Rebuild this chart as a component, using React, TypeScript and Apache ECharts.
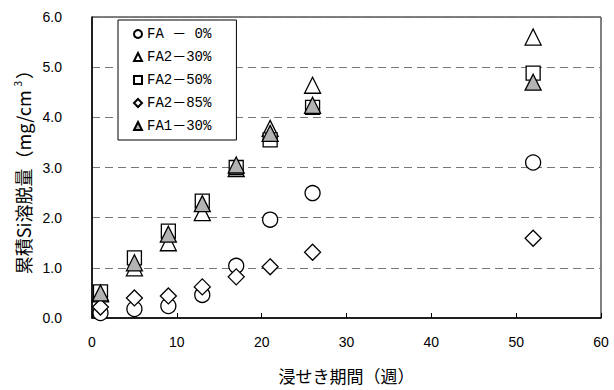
import React, { useEffect, useRef } from "react";
import * as echarts from "echarts";

const weeks = [1, 5, 9, 13, 17, 21, 26, 52];
const fa0 = [0.1, 0.18, 0.24, 0.46, 1.04, 1.96, 2.49, 3.1];
const fa2_30 = [0.48, 1.0, 1.5, 2.1, 2.98, 3.78, 4.64, 5.6];
const fa2_50 = [0.52, 1.2, 1.73, 2.33, 3.0, 3.55, 4.2, 4.88];
const fa2_85 = [0.22, 0.4, 0.44, 0.62, 0.82, 1.02, 1.31, 1.59];
const fa1_30 = [0.5, 1.1, 1.67, 2.28, 3.05, 3.68, 4.24, 4.7];

const seriesNames = ["FA － 0%", "FA2－30%", "FA2－50%", "FA2－85%", "FA1－30%"];
const yTicks = ["0.0", "1.0", "2.0", "3.0", "4.0", "5.0", "6.0"];
const xTicks = ["0", "10", "20", "30", "40", "50", "60"];

const pair = (ys: number[]) => weeks.map((w, i) => [w, ys[i]]);

export default function App() {
  const ref = useRef<HTMLDivElement>(null);
  useEffect(() => {
    const chart = echarts.init(ref.current!, null, { renderer: "svg" });
    const mk = (name: string, ys: number[], symbol: string, size: number, fill: string) => ({
      name,
      type: "scatter",
      data: pair(ys),
      symbol,
      symbolSize: size,
      itemStyle: { color: fill, borderColor: "#000", borderWidth: 1.3, opacity: 1 },
      emphasis: { disabled: true },
    });
    chart.setOption({
      animation: false,
      backgroundColor: "#fff",
      textStyle: { fontFamily: "Liberation Sans, Noto Sans CJK JP, sans-serif", color: "#000" },
      grid: {
        left: 92,
        top: 17,
        right: 13,
        bottom: 72,
        show: true,
        borderColor: "#000",
        borderWidth: 1,
        backgroundColor: "transparent",
      },
      legend: {
        orient: "vertical",
        left: 118,
        top: 20,
        padding: [7, 25, 7, 15],
        itemGap: 9,
        itemWidth: 8,
        itemHeight: 8,
        backgroundColor: "#fff",
        borderColor: "#000",
        borderWidth: 1,
        borderRadius: 0,
        selectedMode: false,
        data: seriesNames,
        textStyle: {
          fontSize: 14,
          lineHeight: 14,
          color: "#000",
          fontFamily: "Liberation Mono, Noto Sans CJK JP, monospace",
        },
      },
      xAxis: {
        type: "value",
        min: 0,
        max: 60,
        interval: 10,
        name: "浸せき期間（週）",
        nameLocation: "middle",
        nameGap: 49,
        nameTextStyle: { fontSize: 17, fontFamily: "Noto Sans CJK JP", color: "#000" },
        axisLine: { show: true, onZero: false, lineStyle: { color: "#000", width: 1.5 } },
        axisTick: { show: true, inside: true, length: 5, lineStyle: { color: "#000" } },
        axisLabel: {
          margin: 17,
          fontSize: 14,
          color: "#000",
          formatter: (v: number) => xTicks[Math.round(v / 10)] ?? String(v),
        },
        splitLine: { show: false },
      },
      yAxis: {
        type: "value",
        min: 0,
        max: 6,
        interval: 1,
        name: "{n|累積Si溶脱量（mg/cm}{sup|3}{n|）}",
        nameLocation: "middle",
        nameGap: 56,
        nameTextStyle: {
          fontSize: 18,
          fontFamily: "Noto Sans CJK JP",
          color: "#000",
          rich: {
            n: { fontSize: 18, fontFamily: "Noto Sans CJK JP", color: "#000" },
            sup: {
              fontSize: 10,
              fontFamily: "Noto Sans CJK JP",
              color: "#000",
              verticalAlign: "top",
              padding: [0, 2, 10, 4],
            },
          },
        },
        axisLine: { show: true, lineStyle: { color: "#000", width: 1.5 } },
        axisTick: { show: false },
        axisLabel: {
          margin: 30,
          fontSize: 14,
          color: "#000",
          formatter: (v: number) => yTicks[Math.round(v)] ?? v.toFixed(1),
        },
        splitLine: { show: true, lineStyle: { color: "#777", type: [8, 5], width: 1.2 } },
      },
      series: [
        mk(seriesNames[0], fa0, "circle", 15, "#fff"),
        mk(seriesNames[1], fa2_30, "triangle", 16, "#fff"),
        mk(seriesNames[2], fa2_50, "rect", 14, "#fff"),
        mk(seriesNames[3], fa2_85, "diamond", 16, "#fff"),
        mk(seriesNames[4], fa1_30, "triangle", 16, "#b3b3b3"),
      ],
    });
    return () => chart.dispose();
  }, []);
  return (
    <div
      ref={ref}
      style={{ position: "absolute", left: 0, top: 0, width: 614, height: 390 }}
    />
  );
}
